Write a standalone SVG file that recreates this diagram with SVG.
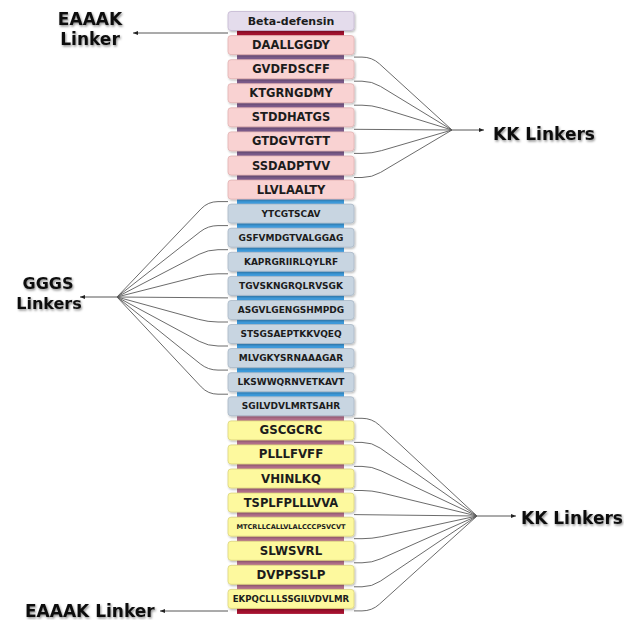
<svg xmlns="http://www.w3.org/2000/svg" width="624" height="620" viewBox="0 0 624 620">
<style>
.box{stroke-width:0.8;filter:url(#bs)}
.bd{fill:#e4dcec;stroke:#c4b8d2}
.pk{fill:#f9d2d2;stroke:#e2b2b2}
.bl{fill:#c8d5e1;stroke:#a9b8c7}
.yl{fill:#fdf99e;stroke:#dcd47e}
.br{fill:#a6112f}
.bp{fill:#7d5c8c}
.bb{fill:#3e9ddf}
.bm{fill:#b5708c}
.t{font-family:"DejaVu Sans","Liberation Sans",sans-serif;font-weight:bold;fill:#1c1c1c;text-anchor:middle;dominant-baseline:central}
.lab{font-family:"DejaVu Sans","Liberation Sans",sans-serif;font-weight:bold;fill:#111;filter:url(#ts)}
.c{fill:none;stroke:#5a5a5a;stroke-width:0.9}
.a{fill:none;stroke:#444;stroke-width:0.9;marker-end:url(#ah)}
</style>
<defs>
<filter id="bs" x="-5%" y="-20%" width="115%" height="150%"><feDropShadow dx="1" dy="1.2" stdDeviation="0.8" flood-color="#000" flood-opacity="0.3"/></filter>
<filter id="ts" x="-10%" y="-30%" width="130%" height="170%"><feDropShadow dx="1" dy="1.5" stdDeviation="1.2" flood-color="#000" flood-opacity="0.45"/></filter>
<marker id="ah" markerUnits="userSpaceOnUse" markerWidth="6" markerHeight="6" refX="5" refY="3" orient="auto"><path d="M0,1 L5,3 L0,5 z" fill="#222"/></marker>
</defs>
<rect width="624" height="620" fill="#fff"/>
<g id="connectors">
<path class="a" d="M228 33 L133 33"/>
<path class="c" d="M354 57.1 H362 Q372 57.1 379.4 63.8 L452 130"/>
<path class="c" d="M354 81.2 H362 Q372 81.2 380.5 86.4 L452 130"/>
<path class="c" d="M354 105.2 H362 Q372 105.2 381.5 108.2 L452 130"/>
<path class="c" d="M354 129.3 L452 130"/>
<path class="c" d="M354 153.4 H362 Q372 153.4 381.6 150.6 L452 130"/>
<path class="c" d="M354 177.5 H362 Q372 177.5 380.6 172.4 L452 130"/>
<path class="a" d="M452 130 L484 130"/>
<path class="c" d="M228 201.6 H218 Q208 201.6 201.1 208.8 L117 297"/>
<path class="c" d="M228 225.6 H218 Q208 225.6 200.1 231.8 L117 297"/>
<path class="c" d="M228 249.7 H218 Q208 249.7 199.1 254.3 L117 297"/>
<path class="c" d="M228 273.8 H218 Q208 273.8 198.3 276.3 L117 297"/>
<path class="c" d="M228 297.9 L117 297"/>
<path class="c" d="M228 322 H218 Q208 322 198.4 319.3 L117 297"/>
<path class="c" d="M228 346 H218 Q208 346 199.2 341.3 L117 297"/>
<path class="c" d="M228 370.1 H218 Q208 370.1 200.2 363.8 L117 297"/>
<path class="c" d="M228 394.2 H218 Q208 394.2 201.2 386.9 L117 297"/>
<path class="a" d="M117 297 L80 297"/>
<path class="c" d="M354 418.3 H362 Q372 418.3 379.3 425.1 L477 516"/>
<path class="c" d="M354 442.4 H362 Q372 442.4 380.2 448.1 L477 516"/>
<path class="c" d="M354 466.4 H362 Q372 466.4 381 470.8 L477 516"/>
<path class="c" d="M354 490.5 H362 Q372 490.5 381.7 492.9 L477 516"/>
<path class="c" d="M354 514.6 L477 516"/>
<path class="c" d="M354 538.7 H362 Q372 538.7 381.8 536.6 L477 516"/>
<path class="c" d="M354 562.8 H362 Q372 562.8 381.1 558.7 L477 516"/>
<path class="c" d="M354 586.8 H362 Q372 586.8 380.3 581.2 L477 516"/>
<path class="c" d="M354 610.9 H362 Q372 610.9 379.4 604.2 L477 516"/>
<path class="a" d="M477 516 L516 516"/>
<path class="a" d="M228 611 L160 611"/>
</g>
<g id="labels">
<text class="lab" font-size="17" x="90" y="25" text-anchor="middle">EAAAK</text>
<text class="lab" font-size="17" x="90" y="45" text-anchor="middle">Linker</text>
<text class="lab" font-size="17" x="493" y="140">KK Linkers</text>
<text class="lab" font-size="16" x="48" y="289" text-anchor="middle">GGGS</text>
<text class="lab" font-size="16" x="49" y="309" text-anchor="middle">Linkers</text>
<text class="lab" font-size="17" x="521" y="524">KK Linkers</text>
<text class="lab" font-size="17" x="25" y="617">EAAAK Linker</text>
</g>
<g id="n0"><rect class="br" x="237" y="29" width="107" height="7"/><rect class="box bd" x="228" y="11.5" width="126" height="19" rx="3"/><text class="t" x="291" y="21" font-size="11">Beta-defensin</text></g>
<g id="n1"><rect class="bp" x="237" y="53.1" width="107" height="7"/><rect class="box pk" x="228" y="35.6" width="126" height="19" rx="3"/><text class="t" x="291" y="45.1" font-size="11.5">DAALLGGDY</text></g>
<g id="n2"><rect class="bp" x="237" y="77.2" width="107" height="7"/><rect class="box pk" x="228" y="59.7" width="126" height="19" rx="3"/><text class="t" x="291" y="69.2" font-size="11.5">GVDFDSCFF</text></g>
<g id="n3"><rect class="bp" x="237" y="101.2" width="107" height="7"/><rect class="box pk" x="228" y="83.7" width="126" height="19" rx="3"/><text class="t" x="291" y="93.2" font-size="11.5">KTGRNGDMY</text></g>
<g id="n4"><rect class="bp" x="237" y="125.3" width="107" height="7"/><rect class="box pk" x="228" y="107.8" width="126" height="19" rx="3"/><text class="t" x="291" y="117.3" font-size="11.5">STDDHATGS</text></g>
<g id="n5"><rect class="bp" x="237" y="149.4" width="107" height="7"/><rect class="box pk" x="228" y="131.9" width="126" height="19" rx="3"/><text class="t" x="291" y="141.4" font-size="11.5">GTDGVTGTT</text></g>
<g id="n6"><rect class="bp" x="237" y="173.5" width="107" height="7"/><rect class="box pk" x="228" y="156" width="126" height="19" rx="3"/><text class="t" x="291" y="165.5" font-size="11.5">SSDADPTVV</text></g>
<g id="n7"><rect class="bb" x="237" y="197.6" width="107" height="7"/><rect class="box pk" x="228" y="180.1" width="126" height="19" rx="3"/><text class="t" x="291" y="189.6" font-size="11.5">LLVLAALTY</text></g>
<g id="n8"><rect class="bb" x="237" y="221.6" width="107" height="7"/><rect class="box bl" x="228" y="204.1" width="126" height="19" rx="3"/><text class="t" x="291" y="213.6" font-size="9">YTCGTSCAV</text></g>
<g id="n9"><rect class="bb" x="237" y="245.7" width="107" height="7"/><rect class="box bl" x="228" y="228.2" width="126" height="19" rx="3"/><text class="t" x="291" y="237.7" font-size="9">GSFVMDGTVALGGAG</text></g>
<g id="n10"><rect class="bb" x="237" y="269.8" width="107" height="7"/><rect class="box bl" x="228" y="252.3" width="126" height="19" rx="3"/><text class="t" x="291" y="261.8" font-size="9">KAPRGRIIRLQYLRF</text></g>
<g id="n11"><rect class="bb" x="237" y="293.9" width="107" height="7"/><rect class="box bl" x="228" y="276.4" width="126" height="19" rx="3"/><text class="t" x="291" y="285.9" font-size="9">TGVSKNGRQLRVSGK</text></g>
<g id="n12"><rect class="bb" x="237" y="318" width="107" height="7"/><rect class="box bl" x="228" y="300.5" width="126" height="19" rx="3"/><text class="t" x="291" y="310" font-size="9">ASGVLGENGSHMPDG</text></g>
<g id="n13"><rect class="bb" x="237" y="342" width="107" height="7"/><rect class="box bl" x="228" y="324.5" width="126" height="19" rx="3"/><text class="t" x="291" y="334" font-size="9">STSGSAEPTKKVQEQ</text></g>
<g id="n14"><rect class="bb" x="237" y="366.1" width="107" height="7"/><rect class="box bl" x="228" y="348.6" width="126" height="19" rx="3"/><text class="t" x="291" y="358.1" font-size="9">MLVGKYSRNAAAGAR</text></g>
<g id="n15"><rect class="bb" x="237" y="390.2" width="107" height="7"/><rect class="box bl" x="228" y="372.7" width="126" height="19" rx="3"/><text class="t" x="291" y="382.2" font-size="9">LKSWWQRNVETKAVT</text></g>
<g id="n16"><rect class="bm" x="237" y="414.3" width="107" height="7"/><rect class="box bl" x="228" y="396.8" width="126" height="19" rx="3"/><text class="t" x="291" y="406.3" font-size="9">SGILVDVLMRTSAHR</text></g>
<g id="n17"><rect class="bm" x="237" y="438.4" width="107" height="7"/><rect class="box yl" x="228" y="420.9" width="126" height="19" rx="3"/><text class="t" x="291" y="430.4" font-size="11.8">GSCGCRC</text></g>
<g id="n18"><rect class="bm" x="237" y="462.4" width="107" height="7"/><rect class="box yl" x="228" y="444.9" width="126" height="19" rx="3"/><text class="t" x="291" y="454.4" font-size="11.8">PLLLFVFF</text></g>
<g id="n19"><rect class="bm" x="237" y="486.5" width="107" height="7"/><rect class="box yl" x="228" y="469" width="126" height="19" rx="3"/><text class="t" x="291" y="478.5" font-size="11.8">VHINLKQ</text></g>
<g id="n20"><rect class="bm" x="237" y="510.6" width="107" height="7"/><rect class="box yl" x="228" y="493.1" width="126" height="19" rx="3"/><text class="t" x="291" y="502.6" font-size="11.5">TSPLFPLLLVVA</text></g>
<g id="n21"><rect class="bm" x="237" y="534.7" width="107" height="7"/><rect class="box yl" x="228" y="517.2" width="126" height="19" rx="3"/><text class="t" x="291" y="526.7" font-size="6.6">MTCRLLCALLVLALCCCPSVCVT</text></g>
<g id="n22"><rect class="bm" x="237" y="558.8" width="107" height="7"/><rect class="box yl" x="228" y="541.3" width="126" height="19" rx="3"/><text class="t" x="291" y="550.8" font-size="11.8">SLWSVRL</text></g>
<g id="n23"><rect class="bm" x="237" y="582.8" width="107" height="7"/><rect class="box yl" x="228" y="565.3" width="126" height="19" rx="3"/><text class="t" x="291" y="574.8" font-size="11.8">DVPPSSLP</text></g>
<g id="n24"><rect class="br" x="237" y="606.9" width="107" height="7"/><rect class="box yl" x="228" y="589.4" width="126" height="19" rx="3"/><text class="t" x="291" y="598.9" font-size="8.6">EKPQCLLLSSGILVDVLMR</text></g>
</svg>
